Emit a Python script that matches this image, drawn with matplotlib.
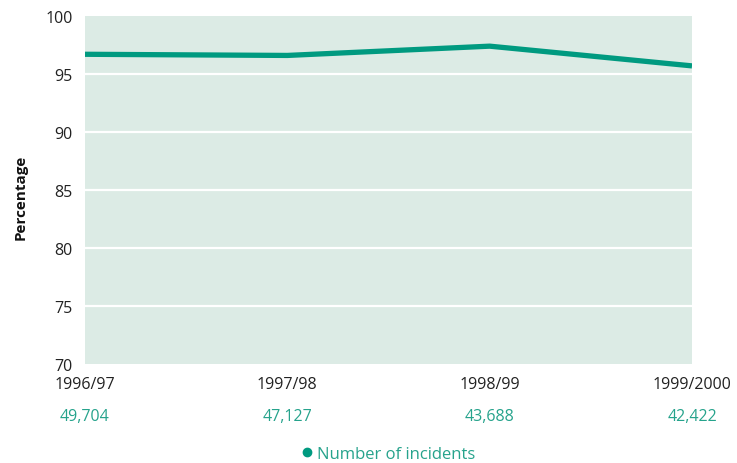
import matplotlib
matplotlib.use("Agg")
import matplotlib.pyplot as plt
import matplotlib.transforms as mtransforms
from matplotlib.lines import Line2D

plt.rcParams["font.family"] = ["Open Sans", "DejaVu Sans"]

# yearly share (%) and incident counts
years = ["1996/97", "1997/98", "1998/99", "1999/2000"]
percentage = [96.7, 96.6, 97.4, 95.7]
incidents = ["49,704", "47,127", "43,688", "42,422"]

line_col = "#009a80"
text_col = "#26a38c"
bg_col = "#dcebe5"

fig = plt.figure(figsize=(7.37, 4.64), dpi=100)
ax = fig.add_axes([85 / 737, 1 - 365 / 464, 607 / 737, 348 / 464])
ax.set_facecolor(bg_col)

x = list(range(len(years)))
ax.plot(x, percentage, color=line_col, lw=3.8, solid_capstyle="butt", zorder=3)

ax.set_xlim(0, len(years) - 1)
ax.set_ylim(70, 100)
ax.set_yticks(range(70, 101, 5))
for y in range(75, 100, 5):
    ax.axhline(y, color="white", lw=1.6, zorder=1)

ax.set_xticks(x)
ax.set_xticklabels(years, fontsize=11.5, color="#222222")
ax.tick_params(axis="x", length=0, pad=9)
ax.tick_params(axis="y", length=0, pad=9, labelsize=11.5, labelcolor="#222222")
for s in ax.spines.values():
    s.set_visible(False)

# incident counts under the year labels
trans = mtransforms.blended_transform_factory(ax.transData, fig.transFigure)
for xi, n in zip(x, incidents):
    ax.text(xi, 1 - 417 / 464, n, transform=trans, ha="center", va="center",
            fontsize=11.5, color=text_col, clip_on=False)

fig.text(21 / 737, 1 - 197 / 464, "Percentage", rotation=90,
         ha="center", va="center", fontsize=11, fontweight="bold", color="#111111")

handle = Line2D([], [], ls="none", marker="o", ms=6, color=line_col)
leg = fig.legend([handle], ["Number of incidents"], loc="center",
                 bbox_to_anchor=(389 / 737, 1 - 455 / 464), frameon=False,
                 handlelength=0.6, handletextpad=0.3, fontsize=12)
for t in leg.get_texts():
    t.set_color(text_col)

fig.savefig("out.png", dpi=100)
